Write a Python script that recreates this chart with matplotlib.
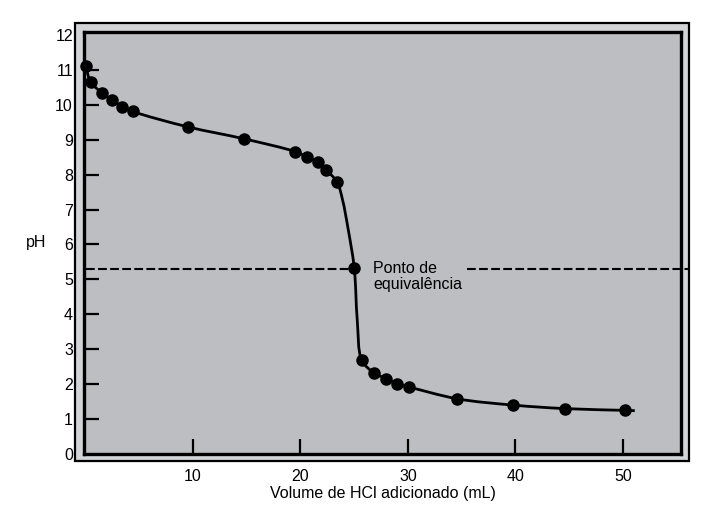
import matplotlib
matplotlib.use("Agg")
import numpy as np
import matplotlib.pyplot as plt
from matplotlib.patches import Rectangle, PathPatch
from matplotlib.path import Path

plt.rcParams['font.family'] = ['Liberation Sans', 'DejaVu Sans']

# Measured titration points (mL HCl, pH)
vol = [0.0, 0.5, 1.5, 2.5, 3.4, 4.4, 9.5, 14.7, 19.5, 20.6, 21.6, 22.4, 23.4,
       25.0, 25.7, 26.8, 27.95, 29.0, 30.1, 34.6, 39.8, 44.6, 50.2]
ph = [11.11, 10.65, 10.35, 10.14, 9.95, 9.81, 9.37, 9.03, 8.66, 8.51, 8.35, 8.13, 7.79,
      5.33, 2.69, 2.33, 2.16, 2.01, 1.92, 1.58, 1.40, 1.30, 1.25]

# Drawn curve knots (includes steep section and tail)
curve_x = [0.0, 0.5, 1.5, 2.5, 3.4, 4.4, 9.5, 14.7, 19.5, 20.6, 21.6, 22.4, 23.4,
           23.92, 24.4, 25.0, 25.28, 25.7, 26.8, 27.95, 29.0, 30.1, 34.6, 39.8,
           44.6, 50.2, 51.1]
curve_ph = [11.11, 10.65, 10.35, 10.14, 9.95, 9.81, 9.37, 9.03, 8.66, 8.51, 8.35, 8.13, 7.79,
            7.27, 6.5, 5.33, 3.84, 2.69, 2.33, 2.16, 2.01, 1.92, 1.58, 1.40,
            1.30, 1.25, 1.24]

equiv_ph = 5.30
xticks = [10, 20, 30, 40, 50]
yticks = list(range(0, 13))

W, H = 702, 505
fig = plt.figure(figsize=(W / 100, H / 100), dpi=100)

# outer frame (pixels: 75..689 x, 23..461 y)
ox0, ox1, oy0, oy1 = 75, 689, 23, 461
fig.patches.append(Rectangle((ox0 / W, 1 - oy1 / H), (ox1 - ox0) / W, (oy1 - oy0) / H,
                             transform=fig.transFigure, facecolor='#d3d4d6',
                             edgecolor='black', linewidth=1.6, zorder=-10))

ix0, ix1, iy0, iy1 = 84, 681, 31.5, 454
ax = fig.add_axes([ix0 / W, 1 - iy1 / H, (ix1 - ix0) / W, (iy1 - iy0) / H])
ax.set_zorder(1)
ax.set_facecolor('#bdbec1')
for s in ax.spines.values():
    s.set_linewidth(2.4)
    s.set_color('black')

ax.set_xlim(-0.14, 55.4)
ax.set_ylim(0, 12.1)

ax.set_xticks(xticks)
ax.set_yticks(yticks)
ax.tick_params(direction='in', length=11, width=1.6, labelsize=11.5, colors='black')
ax.tick_params(axis='y', pad=8)
ax.tick_params(axis='x', pad=11)
ticks = ax.yaxis.get_major_ticks()
ticks[0].tick1line.set_visible(False)
ticks[-1].tick1line.set_visible(False)

# equivalence dashed lines
l1, = ax.plot([0, vol[13]], [equiv_ph, equiv_ph], color='black', lw=1.5, zorder=2)
l2, = ax.plot([35.5, 56.2], [equiv_ph, equiv_ph], color='black', lw=1.5, zorder=2, clip_on=False)
for l in (l1, l2):
    l.set_dashes((4.2, 1.6))


def smooth_path(xs, ys, sx=10.75, sy=34.92):
    """Centripetal Catmull-Rom through knots, as cubic Bezier path."""
    P = np.column_stack([np.asarray(xs) * sx, np.asarray(ys) * sy])
    P = np.vstack([2 * P[0] - P[1], P, 2 * P[-1] - P[-2]])
    verts = [P[1]]
    codes = [Path.MOVETO]
    for i in range(1, len(P) - 2):
        p0, p1, p2, p3 = P[i - 1], P[i], P[i + 1], P[i + 2]
        d01 = max(np.linalg.norm(p1 - p0) ** 0.5, 1e-6)
        d12 = max(np.linalg.norm(p2 - p1) ** 0.5, 1e-6)
        d23 = max(np.linalg.norm(p3 - p2) ** 0.5, 1e-6)
        m1 = ((p1 - p0) / d01 - (p2 - p0) / (d01 + d12) + (p2 - p1) / d12) * d12
        m2 = ((p2 - p1) / d12 - (p3 - p1) / (d12 + d23) + (p3 - p2) / d23) * d12
        verts += [p1 + m1 / 3, p2 - m2 / 3, p2]
        codes += [Path.CURVE4] * 3
    V = np.array(verts)
    V[:, 0] /= sx
    V[:, 1] /= sy
    return Path(V, codes)


ax.add_patch(PathPatch(smooth_path(curve_x, curve_ph), facecolor='none',
                       edgecolor='black', lw=2.0, zorder=3))
ax.plot(vol, ph, 'o', color='black', markersize=8, zorder=4, clip_on=False)

ax.text(26.74, 5.52, 'Ponto de\nequivalência', fontsize=11.5, va='top', ha='left',
        linespacing=1.1)

ax.set_xlabel('Volume de HCl adicionado (mL)', fontsize=11.5, labelpad=1)
ax.set_ylabel('pH', fontsize=11.5, rotation=0, labelpad=14, va='center')

fig.savefig('out.png', dpi=100)
